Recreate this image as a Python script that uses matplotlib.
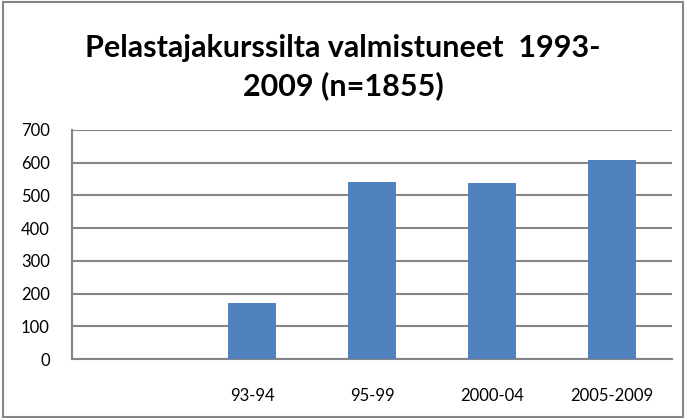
import matplotlib.pyplot as plt
from matplotlib.patches import Rectangle

categories = ['', '93-94', '95-99', '2000-04', '2005-2009']
values = [0, 172, 541, 537, 607]
title = 'Pelastajakurssilta valmistuneet  1993-\n2009 (n=1855)'

plt.rcParams['font.family'] = ['Lato', 'DejaVu Sans']

fig = plt.figure(figsize=(6.86, 4.19), dpi=100)
ax = fig.add_axes([72 / 686, 1 - 359 / 419, 600 / 686, 229 / 419])

x = list(range(len(categories)))
ax.bar(x, values, width=0.4, color='#4F81BD', zorder=3)
ax.set_xlim(-0.5, len(categories) - 0.5)
ax.set_ylim(0, 700)
ax.set_yticks(range(0, 701, 100))
ax.set_xticks(x)
ax.set_xticklabels(categories)
ax.tick_params(axis='both', length=0, labelsize=12, colors='black')
ax.tick_params(axis='x', pad=21)
ax.tick_params(axis='y', pad=16)
ax.yaxis.grid(True, color='#868686', linewidth=1.5, zorder=0)
for side in ['top', 'right']:
    ax.spines[side].set_visible(False)
for side in ['left', 'bottom']:
    ax.spines[side].set_color('#868686')
    ax.spines[side].set_linewidth(1.5)

fig.text(0.5, 0.84, title, ha='center', va='center', fontsize=22,
         fontweight='bold', linespacing=1.42)

fig.patches.append(Rectangle((0.004, 0.005), 0.992, 0.99, transform=fig.transFigure,
                             fill=False, edgecolor='#868686', linewidth=1.5))

fig.savefig('out.png', dpi=100)
